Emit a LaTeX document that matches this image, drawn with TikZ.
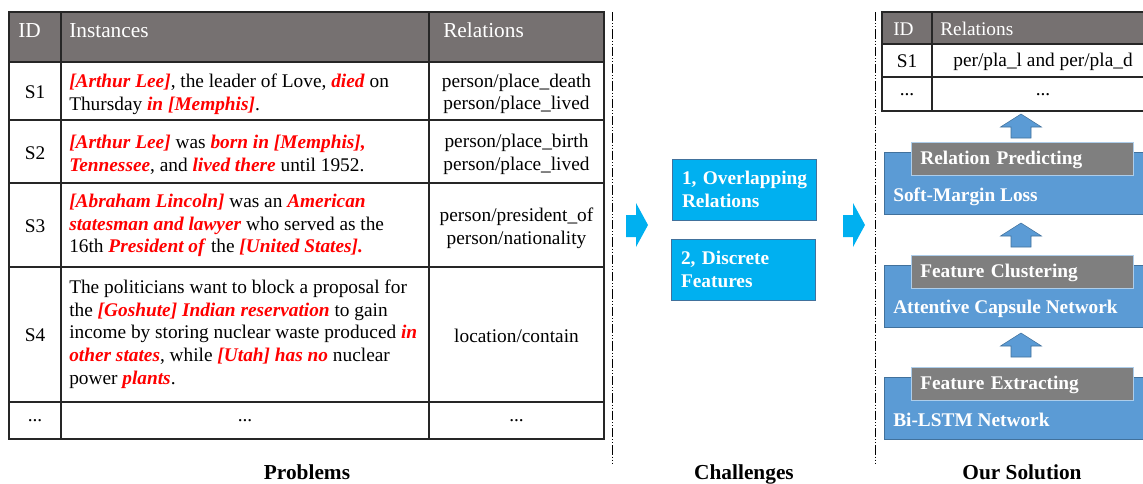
\documentclass[tikz,border=0pt]{standalone}
\usepackage{fontspec}
\setmainfont{Liberation Serif}
\usepackage{xcolor}
\usetikzlibrary{positioning,calc}
\definecolor{headgray}{RGB}{118,113,113}
\definecolor{labelgray}{RGB}{127,127,127}
\definecolor{challblue}{RGB}{0,176,240}
\definecolor{challedge}{RGB}{65,113,156}
\definecolor{layerblue}{RGB}{91,155,213}
\definecolor{layeredge}{RGB}{65,113,156}
\newcommand{\redit}[1]{\textcolor{red}{\textbf{\textit{#1}}}}
\newcommand{\bodyfont}{\fontsize{14.5}{17}\selectfont}

\begin{document}
\begin{tikzpicture}[x=0.75pt, y=-0.75pt,
		every node/.style={font=\bodyfont},
		cell/.style={anchor=west, inner sep=0pt, align=left},
		mid/.style={inner sep=0pt, align=center},
		hdr/.style={anchor=base west, inner sep=0pt, text=white},
		grid/.style={line width=0.9pt, black!85},
		sepline/.style={line width=0.6pt, dash pattern=on 7pt off 1.5pt on 0.75pt off 1.5pt on 0.75pt off 1.5pt},
		challbox/.style={fill=challblue, draw=challedge, line width=0.6pt, text=white, font=\bfseries\bodyfont, align=left, text width=93pt, inner xsep=7.5pt, minimum height=45.75pt},
		layerbox/.style={fill=layerblue, draw=layeredge, line width=0.5pt, anchor=north west, minimum width=207pt, minimum height=46.5pt, inner sep=0pt},
		labelbox/.style={fill=labelgray, draw=layerblue!50!white, line width=0.5pt, anchor=north west, text=white, font=\bfseries\bodyfont, align=left, text width=153pt, inner xsep=6.75pt, text height=9pt, text depth=0pt, minimum height=24.75pt},
		uparrow/.style={fill=layerblue, draw=layeredge, line width=0.4pt},
		caption/.style={anchor=base, font=\bfseries\fontsize{16}{19}\selectfont}]
	\useasboundingbox (0,0) rectangle (1143,483);
	
	% Problems table
	\fill[headgray] (9,12) rectangle (604,62);
	\draw[grid] (9,12) rectangle (604,439);
	\foreach \ry in {62,120,183,267,402}
		\draw[grid] (9,\ry) -- (604,\ry);
	\draw[grid] (61,12) -- (61,439);
	\draw[grid] (429,12) -- (429,439);
	
	\node[hdr, font=\fontsize{16}{19}\selectfont] (hid) at (18,37) {ID};
	\node[hdr, font=\fontsize{16}{19}\selectfont] (hinst) at (69,37) {Instances};
	\node[hdr, font=\fontsize{16}{19}\selectfont] (hrel) at (443,37) {Relations};
	
	\node[mid] (s1id) at (35,92) {S1};
	\node[cell] (s1txt) at (69,94) {\redit{[Arthur Lee]}, the leader of Love, \redit{died} on\\Thursday \redit{in [Memphis]}.};
	\node[mid] (s1rel) at (516.5,94) {person/place\_death\\person/place\_lived};
	
	\node[mid] (s2id) at (35,153) {S2};
	\node[cell] (s2txt) at (69,154.5) {\redit{[Arthur Lee]} was \redit{born in [Memphis],}\\\redit{Tennessee}, and \redit{lived there} until 1952.};
	\node[mid] (s2rel) at (516.5,154.5) {person/place\_birth\\person/place\_lived};
	
	\node[mid] (s3id) at (35,226) {S3};
	\node[cell] (s3txt) at (69,225.5) {\redit{[Abraham Lincoln]} was an \redit{American}\\\redit{statesman and lawyer} who served as the\\16th \redit{President of} the \redit{[United States].}};
	\node[mid] (s3rel) at (516.5,228) {person/president\_of\\person/nationality};
	
	\node[mid] (s4id) at (35,335) {S4};
	\node[cell] (s4txt) at (69,334) {The politicians want to block a proposal for\\the \redit{[Goshute] Indian reservation} to gain\\income by storing nuclear waste produced \redit{in}\\\redit{other states}, while \redit{[Utah] has no} nuclear\\power \redit{plants}.};
	\node[mid] (s4rel) at (516.5,336) {location/contain};
	
	\node[mid] (dotid) at (35,421) {...};
	\node[mid] (dottxt) at (245,421) {...};
	\node[mid] (dotrel) at (516.5,421) {...};
	
	% separators
	\draw[sepline] (612,12) -- (612,463);
	\draw[sepline] (875,12) -- (875,463);
	
	% Challenges
	\foreach \ax in {626,843}
		\fill[challblue] (\ax,215) -- ++(10,0) -- ++(0,-12) -- ++(12,22) -- ++(-12,22) -- ++(0,-10) -- ++(-10,0) -- cycle;
	\node[challbox] (overlap) at (744,189.5) {\mbox{1, Overlapping}\\Relations};
	\node[challbox] (discrete) at (743,269.5) {2, Discrete\\Features};
	
	% Our solution: output table
	\fill[headgray] (882,12) rectangle (1154,44);
	\draw[grid] (882,12) rectangle (1154,111);
	\draw[grid] (882,44) -- (1154,44);
	\draw[grid] (882,77) -- (1154,77);
	\draw[grid] (932,12) -- (932,111);
	\node[hdr] (oid) at (893,35) {ID};
	\node[hdr] (orel) at (940,35) {Relations};
	\node[mid] (os1) at (907,61.5) {S1};
	\node[mid] (os1rel) at (1043,61.5) {per/pla\_l and per/pla\_d};
	\node[mid] (odot) at (907,95) {...};
	\node[mid] (odotrel) at (1043,95) {...};
	
	% Our solution: layers
	\foreach \lname/\ytop/\lab/\txt in {pred/142/Relation Predicting/Soft-Margin Loss,
		clus/254.5/Feature Clustering/Attentive Capsule Network,
		extr/367/Feature Extracting/Bi-LSTM Network} {
		\node[layerbox] (\lname) at (884,\ytop+10) {};
		\node[labelbox] (\lname lab) at (911,\ytop) {\lab};
		\node[anchor=base west, inner sep=0pt, text=white, font=\bfseries\bodyfont] (\lname txt) at (893,\ytop+59) {\txt};
	}
	\foreach \ty in {114,223,333}
		\filldraw[uparrow] (1021,\ty) -- ++(20.5,13) -- ++(-10.5,0) -- ++(0,11) -- ++(-20,0) -- ++(0,-11) -- ++(-10.5,0) -- cycle;
	
	% captions
	\node[caption] (probl) at (307,479) {Problems};
	\node[caption] (chall) at (744,479) {Challenges};
	\node[caption] (solut) at (1022,479) {Our Solution};
\end{tikzpicture}
\end{document}
